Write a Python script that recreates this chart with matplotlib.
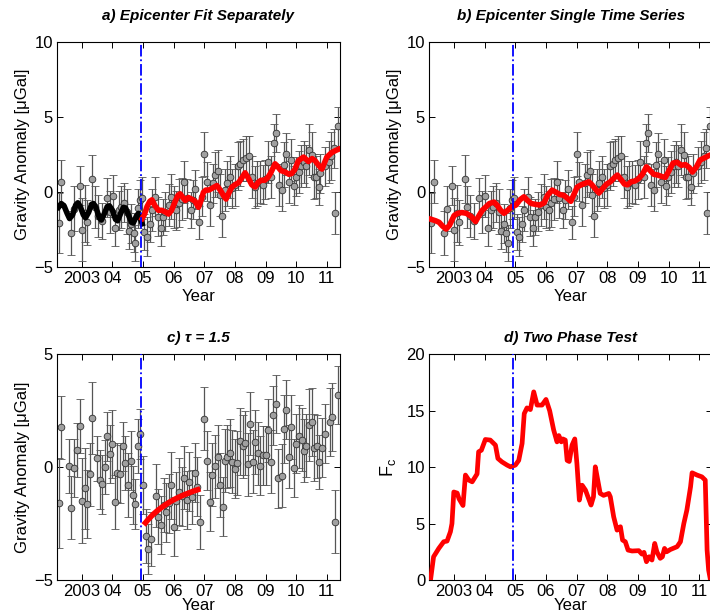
import numpy as np
import matplotlib
matplotlib.use("Agg")
import matplotlib.pyplot as plt

plt.rcParams['font.family'] = ['Liberation Sans', 'DejaVu Sans']
plt.rcParams['mathtext.fontset'] = 'custom'
plt.rcParams['mathtext.rm'] = 'Liberation Sans'
plt.rcParams['mathtext.it'] = 'Liberation Sans:italic'

# ---------------- data: gravity anomaly series (panels a, b) ----------------
t_obs = [2002.25, 2002.33, 2002.66, 2002.76, 2002.93, 2003.01, 2003.10, 2003.17, 2003.34, 2003.42,
         2003.52, 2003.66, 2003.82, 2003.91, 2004.01, 2004.10, 2004.21, 2004.28, 2004.37, 2004.46,
         2004.53, 2004.62, 2004.70, 2004.75, 2004.83, 2004.89, 2004.97, 2005.04, 2005.13, 2005.22,
         2005.29, 2005.40, 2005.48, 2005.57, 2005.65, 2005.73, 2005.84, 2005.92, 2006.00, 2006.09,
         2006.16, 2006.27, 2006.35, 2006.44, 2006.55, 2006.62, 2006.71, 2006.84, 2006.93, 2007.00,
         2007.09, 2007.17, 2007.27, 2007.34, 2007.44, 2007.50, 2007.58, 2007.67, 2007.74, 2007.83,
         2007.91, 2007.99, 2008.10, 2008.18, 2008.26, 2008.36, 2008.45, 2008.56, 2008.65, 2008.72,
         2008.81, 2008.91, 2008.99, 2009.08, 2009.19, 2009.27, 2009.34, 2009.43, 2009.52, 2009.59,
         2009.67, 2009.76, 2009.84, 2009.92, 2009.99, 2010.08, 2010.17, 2010.24, 2010.32, 2010.41,
         2010.50, 2010.57, 2010.65, 2010.73, 2010.79, 2010.95, 2011.06, 2011.15, 2011.22, 2011.26,
         2011.36]
g_obs = [-2.03, 0.71, -2.70, -1.10, 0.42, -2.50, -1.40, -2.00, 0.87, -1.00,
         -1.60, -1.90, -0.36, -1.30, -0.25, -2.35, -1.20, -1.00, -0.70, -1.30,
         -2.60, -2.10, -2.70, -3.35, -1.07, -0.50, -0.40, -2.63, -2.97, -2.14,
         -1.18, -0.29, -1.63, -2.40, -1.63, -1.30, -0.85, -0.30, -0.96, -1.20,
         -0.74, -0.47, 0.71, -0.40, -1.18, -0.50, 0.20, -2.00, -0.30, 2.54,
         0.71, -0.85, 0.60, 1.16, 1.45, -0.18, -1.58, 0.16, 0.60, 1.05,
         0.27, 0.49, 1.72, 1.90, 2.17, 2.28, 2.43, 1.05, 0.38, 0.60,
         0.71, 0.49, 0.87, 2.05, 1.05, 3.28, 3.95, 0.49, 0.16, 1.83,
         2.57, 0.71, 2.17, 0.42, 1.05, 1.38, 1.72, 2.05, 1.72, 2.83,
         2.50, 1.05, 1.05, 0.38, 1.27, 1.72, 2.00, 2.40, 2.95, -1.41,
         4.40]
e_obs = [2.0, 1.45, 1.45, 1.5, 1.3, 2.1, 1.9, 1.5, 1.6, 1.4,
         1.4, 1.2, 1.3, 1.4, 1.4, 1.2, 1.3, 1.4, 1.3, 1.5,
         1.2, 1.3, 1.3, 1.2, 1.3, 1.3, 1.4, 1.2, 1.3, 1.2,
         1.4, 1.3, 1.3, 1.2, 1.2, 1.3, 1.4, 1.5, 1.4, 1.3,
         1.6, 1.4, 1.4, 1.3, 1.2, 1.3, 1.3, 1.1, 1.3, 1.45,
         1.3, 1.4, 1.3, 1.5, 1.4, 1.4, 1.4, 1.4, 1.5, 1.4,
         1.3, 1.4, 1.6, 1.5, 1.4, 1.5, 1.3, 1.4, 1.4, 1.5,
         1.4, 1.3, 1.3, 1.4, 1.4, 1.3, 1.25, 1.4, 1.4, 1.5,
         1.4, 1.4, 1.4, 1.3, 1.3, 1.4, 1.4, 1.4, 1.4, 1.7,
         1.5, 1.5, 1.4, 1.2, 1.3, 1.3, 1.4, 1.6, 1.3, 1.4,
         1.3]

# panel a fits
t_fit_pre = [2002.24, 2002.33, 2002.42, 2002.52, 2002.60, 2002.70, 2002.80, 2002.87, 2002.95, 2003.05,
             2003.12, 2003.22, 2003.32, 2003.38, 2003.47, 2003.57, 2003.64, 2003.74, 2003.83, 2003.90,
             2004.00, 2004.10, 2004.17, 2004.27, 2004.36, 2004.43, 2004.52, 2004.62, 2004.68, 2004.78,
             2004.85, 2004.92, 2004.97]
g_fit_pre = [-1.0, -0.75, -0.9, -1.4, -1.75, -1.5, -0.85, -0.7, -0.95, -1.5,
             -1.7, -1.35, -0.8, -0.75, -1.05, -1.7, -1.85, -1.4, -0.95, -0.9,
             -1.2, -1.8, -1.9, -1.4, -1.0, -1.05, -1.5, -2.0, -2.05, -1.6,
             -1.4, -1.8, -2.1]
t_fit_post = [2004.97, 2005.05, 2005.13, 2005.22, 2005.29, 2005.39, 2005.50, 2005.61, 2005.72, 2005.83,
              2005.93, 2006.05, 2006.14, 2006.21, 2006.30, 2006.38, 2006.48, 2006.58, 2006.70, 2006.81,
              2006.90, 2006.97, 2007.05, 2007.15, 2007.28, 2007.41, 2007.52, 2007.62, 2007.71, 2007.80,
              2007.90, 2008.00, 2008.12, 2008.22, 2008.33, 2008.45, 2008.55, 2008.66, 2008.75, 2008.85,
              2008.97, 2009.08, 2009.17, 2009.31, 2009.40, 2009.50, 2009.64, 2009.76, 2009.85, 2009.95,
              2010.07, 2010.24, 2010.40, 2010.52, 2010.62, 2010.73, 2010.84, 2010.92, 2011.00, 2011.16,
              2011.30, 2011.42]
g_fit_post = [-1.75, -1.45, -0.95, -0.6, -0.5, -0.9, -1.2, -1.2, -1.3, -1.45,
              -1.2, -0.6, -0.2, -0.1, -0.35, -0.55, -0.35, -0.45, -0.6, -1.0,
              -0.5, 0.0, 0.15, 0.15, 0.3, 0.45, 0.15, -0.2, -0.45, -0.05,
              0.35, 0.5, 0.65, 0.95, 1.3, 0.9, 0.5, 0.35, 0.65, 0.8,
              0.8, 1.0, 1.3, 1.9, 1.7, 1.45, 1.35, 1.2, 1.25, 1.5,
              2.1, 2.35, 2.05, 2.25, 2.1, 1.8, 1.55, 1.95, 2.35, 2.65,
              2.8, 2.9]

# panel b fit (single time series)
t_fit_single = [2002.25, 2002.40, 2002.51, 2002.62, 2002.74, 2002.85, 2003.00, 2003.12, 2003.25, 2003.40,
                2003.55, 2003.70, 2003.80, 2003.92, 2004.05, 2004.15, 2004.30, 2004.40, 2004.52, 2004.63,
                2004.75, 2004.90, 2005.02, 2005.15, 2005.28, 2005.40, 2005.52, 2005.65, 2005.80, 2005.94,
                2006.05, 2006.20, 2006.33, 2006.45, 2006.58, 2006.70, 2006.81, 2006.92, 2007.02, 2007.15,
                2007.28, 2007.40, 2007.50, 2007.62, 2007.73, 2007.85, 2007.98, 2008.10, 2008.22, 2008.33,
                2008.45, 2008.56, 2008.66, 2008.78, 2008.90, 2009.02, 2009.15, 2009.28, 2009.40, 2009.52,
                2009.65, 2009.78, 2009.90, 2010.02, 2010.15, 2010.28, 2010.42, 2010.55, 2010.68, 2010.78,
                2010.90, 2011.03, 2011.18, 2011.32, 2011.45]
g_fit_single = [-1.8, -1.9, -2.0, -2.25, -2.45, -2.2, -1.55, -1.4, -1.35, -1.4,
                -1.6, -1.95, -1.6, -1.2, -0.95, -0.75, -0.65, -0.85, -1.2, -1.4,
                -1.2, -0.95, -0.85, -0.5, -0.3, -0.55, -0.75, -0.8, -0.85, -0.7,
                -0.2, 0.15, 0.0, -0.15, -0.2, -0.4, -0.6, -0.1, 0.35, 0.5,
                0.6, 0.7, 0.5, 0.2, -0.05, 0.25, 0.55, 0.7, 0.95, 1.15,
                0.85, 0.55, 0.5, 0.7, 0.75, 0.9, 1.2, 1.7, 1.45, 1.2,
                1.15, 1.05, 1.0, 1.45, 1.95, 2.0, 1.8, 1.85, 1.65, 1.35,
                1.65, 2.15, 2.3, 2.45, 2.55]

# ---------------- panel c data ----------------
t_c = [2002.25, 2002.33, 2002.57, 2002.66, 2002.75, 2002.85, 2002.93, 2003.00, 2003.10, 2003.17,
       2003.26, 2003.34, 2003.50, 2003.59, 2003.67, 2003.75, 2003.82, 2003.91, 2003.99, 2004.07,
       2004.16, 2004.24, 2004.33, 2004.42, 2004.51, 2004.60, 2004.67, 2004.75, 2004.83, 2004.91,
       2005.00, 2005.09, 2005.16, 2005.26, 2005.41, 2005.49, 2005.59, 2005.67, 2005.75, 2005.84,
       2005.92, 2006.00, 2006.09, 2006.16, 2006.26, 2006.35, 2006.44, 2006.51, 2006.60, 2006.68,
       2006.76, 2006.85, 2007.00, 2007.09, 2007.18, 2007.26, 2007.34, 2007.44, 2007.50, 2007.60,
       2007.67, 2007.74, 2007.83, 2007.91, 2007.99, 2008.07, 2008.18, 2008.26, 2008.34, 2008.42,
       2008.50, 2008.58, 2008.67, 2008.75, 2008.83, 2008.92, 2009.01, 2009.08, 2009.18, 2009.24,
       2009.33, 2009.42, 2009.52, 2009.59, 2009.67, 2009.76, 2009.84, 2009.92, 2010.00, 2010.09,
       2010.18, 2010.25, 2010.33, 2010.43, 2010.50, 2010.59, 2010.67, 2010.76, 2010.84, 2010.93,
       2011.09, 2011.17, 2011.28, 2011.36]
g_c = [-1.60, 1.76, 0.06, -1.79, -0.04, 0.77, 1.84, -1.48, -0.93, -1.64,
       -0.31, 2.18, 0.40, -0.56, -0.76, -0.01, 1.36, 0.58, 1.04, -1.53,
       -0.24, -0.31, 0.92, 0.18, -0.79, 0.28, -1.23, -1.64, 0.92, 1.47,
       -0.79, -3.04, -3.63, -3.19, -1.26, -2.19, -2.56, -1.67, -2.00, -1.60,
       -0.81, -2.64, -1.50, -1.08, -1.30, -0.46, -1.45, -0.64, -1.33, -0.24,
       -0.86, -2.44, 2.15, 0.28, -1.53, -0.34, 0.03, 0.47, -0.79, -1.75,
       0.28, 0.47, 0.62, 0.25, -0.07, 0.18, 1.14, 0.92, 1.07, 0.13,
       1.93, 0.25, 1.11, 0.62, 0.07, 0.52, 0.52, 1.63, 0.25, 2.30,
       2.80, -0.49, -0.37, 1.69, 2.55, 0.47, 1.78, -0.04, 1.04, 1.36,
       1.21, 0.73, 0.95, 1.88, 2.00, 0.87, 0.92, 0.21, 0.87, 1.48,
       1.99, 2.22, -2.41, 3.19]
e_c = [2.0, 1.4, 1.2, 1.4, 1.3, 1.2, 1.2, 1.9, 1.8, 1.5,
       1.4, 1.6, 1.0, 1.3, 1.3, 1.2, 1.1, 1.3, 1.5, 1.2,
       1.3, 1.3, 1.1, 1.2, 1.4, 1.3, 1.3, 1.1, 1.2, 1.1,
       1.3, 1.2, 1.1, 1.2, 1.4, 1.2, 1.3, 1.2, 1.3, 1.3,
       1.5, 1.3, 1.3, 1.5, 1.3, 1.4, 1.3, 1.3, 1.2, 1.3,
       1.3, 1.2, 1.4, 1.3, 1.3, 1.4, 1.4, 1.4, 1.4, 1.3,
       1.4, 1.4, 1.5, 1.4, 1.3, 1.4, 1.5, 1.4, 1.4, 1.4,
       1.4, 1.4, 1.4, 1.4, 1.3, 1.3, 1.3, 1.4, 1.4, 1.3,
       1.3, 1.3, 1.4, 1.5, 1.3, 1.4, 1.4, 1.3, 1.3, 1.4,
       1.4, 1.4, 1.4, 1.6, 1.5, 1.5, 1.4, 1.2, 1.3, 1.3,
       1.5, 1.5, 1.4, 1.3]
t_fit_c = [2005.02, 2005.15, 2005.30, 2005.45, 2005.60, 2005.75, 2005.90, 2006.05, 2006.20, 2006.35,
           2006.50, 2006.65, 2006.87]
g_fit_c = [-2.56, -2.35, -2.13, -1.95, -1.79, -1.65, -1.52, -1.41, -1.31, -1.22,
           -1.14, -1.06, -0.96]

# ---------------- panel d: two phase test ----------------
t_fc = [2002.23, 2002.33, 2002.50, 2002.66, 2002.77, 2002.88, 2002.93, 2002.99, 2003.10, 2003.16,
        2003.29, 2003.37, 2003.48, 2003.59, 2003.75, 2003.80, 2003.89, 2004.02, 2004.18, 2004.35,
        2004.43, 2004.56, 2004.73, 2004.84, 2005.00, 2005.11, 2005.22, 2005.29, 2005.38, 2005.49,
        2005.60, 2005.71, 2005.87, 2006.00, 2006.12, 2006.25, 2006.36, 2006.42, 2006.50, 2006.55,
        2006.63, 2006.69, 2006.76, 2006.85, 2006.94, 2007.01, 2007.09, 2007.18, 2007.29, 2007.39,
        2007.47, 2007.55, 2007.61, 2007.69, 2007.77, 2007.88, 2008.05, 2008.10, 2008.21, 2008.32,
        2008.43, 2008.50, 2008.59, 2008.68, 2008.81, 2009.03, 2009.13, 2009.20, 2009.28, 2009.37,
        2009.46, 2009.55, 2009.62, 2009.73, 2009.80, 2009.87, 2009.94, 2010.06, 2010.28, 2010.39,
        2010.50, 2010.60, 2010.72, 2010.77, 2010.93, 2011.09, 2011.20, 2011.26, 2011.31, 2011.37]
fc = [0.0, 2.06, 2.8, 3.39, 3.45, 4.28, 5.0, 7.8, 7.7, 7.2,
      6.6, 9.3, 8.85, 8.7, 9.4, 11.36, 11.5, 12.45, 12.4, 11.95,
      10.77, 10.47, 10.18, 10.03, 10.18, 10.6, 12.1, 14.75, 15.25, 15.1,
      16.67, 15.5, 15.5, 16.0, 15.0, 13.3, 12.24, 12.8, 12.24, 12.5,
      12.4, 10.6, 10.5, 11.95, 12.5, 10.3, 7.08, 8.4, 7.96, 7.22,
      6.64, 7.37, 10.03, 8.85, 7.67, 7.5, 7.67, 7.37, 5.6, 4.42,
      4.72, 3.54, 3.39, 2.65, 2.57, 2.6, 2.3, 2.45, 1.62, 2.06,
      1.77, 3.24, 2.5, 1.92, 2.06, 2.8, 2.5, 2.7, 2.95, 3.39,
      5.0, 6.2, 8.26, 9.5, 9.3, 9.14, 8.85, 2.65, 0.88, 0.0]

quake = 2004.92
xticks = [2003, 2004, 2005, 2006, 2007, 2008, 2009, 2010, 2011]
xticklabels = ['2003', '04', '05', '06', '07', '08', '09', '10', '11']
xlim = (2002.19, 2011.43)

# ---------------- figure ----------------
W, H = 710, 614
fig = plt.figure(figsize=(W / 100, H / 100), dpi=100)

def ax_at(left, top, right, bottom):
    return fig.add_axes([left / W, 1 - bottom / H, (right - left) / W, (bottom - top) / H])

ax_a = ax_at(57, 42.3, 340, 267.3)
ax_b = ax_at(429.3, 42.3, 712.3, 267.3)
ax_c = ax_at(57, 354.3, 340, 580)
ax_d = ax_at(429.3, 354.3, 712.3, 580)

FS = 12

def style(ax, ylim, yticks, xlabelpad):
    ax.set_xlim(*xlim)
    ax.set_ylim(*ylim)
    ax.set_xticks(xticks)
    ax.set_xticklabels(xticklabels)
    ax.set_yticks(yticks)
    ax.tick_params(direction='in', top=True, right=True, length=4, width=0.7,
                   labelsize=FS, pad=3)
    for s in ax.spines.values():
        s.set_linewidth(0.8)
    ax.set_xlabel('Year', fontsize=FS, labelpad=xlabelpad)
    ax.axvline(quake, color='#0000ff', ls='-.', lw=1.3, zorder=5)

def errpts(ax, t, g, e):
    ax.errorbar(t, g, yerr=e, fmt='o', ms=4.8, mfc='#a0a0a0', mec='#303030', mew=0.6,
                ecolor='#555555', elinewidth=0.9, capsize=2.6, capthick=0.9, zorder=2)

# a
errpts(ax_a, t_obs, g_obs, e_obs)
ax_a.plot(t_fit_pre, g_fit_pre, color='black', lw=4, solid_joinstyle='round', zorder=4)
ax_a.plot(t_fit_post, g_fit_post, color='#ff0000', lw=4, solid_joinstyle='round', zorder=4)
style(ax_a, (-5, 10), [-5, 0, 5, 10], 2)
ax_a.set_ylabel('Gravity Anomaly [\u03bcGal]', fontsize=FS, labelpad=3)
ax_a.set_title('a) Epicenter Fit Separately', fontsize=11, fontweight='bold', style='italic', pad=16)

# b
errpts(ax_b, t_obs, g_obs, e_obs)
ax_b.plot(t_fit_single, g_fit_single, color='#ff0000', lw=4, solid_joinstyle='round', zorder=4)
style(ax_b, (-5, 10), [-5, 0, 5, 10], 2)
ax_b.set_ylabel('Gravity Anomaly [\u03bcGal]', fontsize=FS, labelpad=3)
ax_b.set_title('b) Epicenter Single Time Series', fontsize=11, fontweight='bold', style='italic', pad=16)

# c
errpts(ax_c, t_c, g_c, e_c)
ax_c.plot(t_fit_c, g_fit_c, color='#ff0000', lw=4, solid_capstyle='butt', zorder=4)
style(ax_c, (-5, 5), [-5, 0, 5], -1)
ax_c.set_ylabel('Gravity Anomaly [\u03bcGal]', fontsize=FS, labelpad=3)
ax_c.set_title('c) \u03c4 = 1.5', fontsize=11, fontweight='bold', style='italic', pad=9)

# d
ax_d.plot(t_fc, fc, color='#ff0000', lw=3.4, solid_joinstyle='round', zorder=4)
style(ax_d, (0, 20), [0, 5, 10, 15, 20], -1)
ax_d.set_ylabel('F$_\\mathrm{c}$', fontsize=FS + 1, labelpad=6)
ax_d.set_title('d) Two Phase Test', fontsize=11, fontweight='bold', style='italic', pad=9)

fig.savefig('out.png', dpi=100)
